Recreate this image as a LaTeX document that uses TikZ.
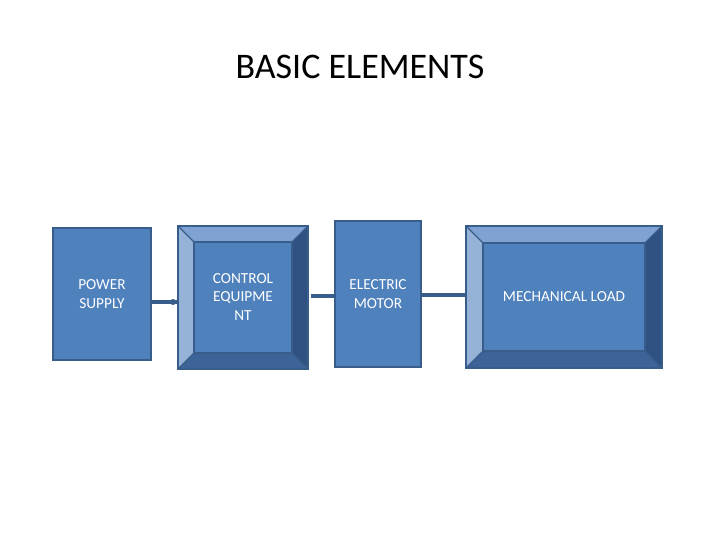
\documentclass[tikz,border=0pt]{standalone}
\usepackage{fontspec}
\setmainfont{Carlito}
\usetikzlibrary{calc}
\definecolor{bfill}{HTML}{4F81BD}
\definecolor{bdraw}{HTML}{385D8A}
\definecolor{btop}{HTML}{7FA2D3}
\definecolor{bleft}{HTML}{95B3D7}
\definecolor{bright}{HTML}{2F5282}
\definecolor{bbot}{HTML}{3C6499}
\tikzset{
 box/.style={draw=bdraw,line width=1.5pt,fill=bfill,text=white,font=\fontsize{11.5}{14}\selectfont,align=center,inner sep=0pt},
 conn/.style={draw=bdraw,line width=3pt},
 bev/.style={draw=bdraw,line width=1pt}
}
\newcommand\bevelof[2]{%
 \fill[btop] (#1.north west) -- (#1.north east) -- ($(#1.north east)+(-#2,#2)$) -- ($(#1.north west)+(#2,#2)$) -- cycle;
 \fill[bleft] (#1.north west) -- (#1.south west) -- ($(#1.south west)+(#2,-#2)$) -- ($(#1.north west)+(#2,#2)$) -- cycle;
 \fill[bright] (#1.north east) -- (#1.south east) -- ($(#1.south east)+(-#2,-#2)$) -- ($(#1.north east)+(-#2,#2)$) -- cycle;
 \fill[bbot] (#1.south west) -- (#1.south east) -- ($(#1.south east)+(-#2,-#2)$) -- ($(#1.south west)+(#2,-#2)$) -- cycle;
 \draw[bev] ($(#1.north west)+(#2,#2)$) rectangle ($(#1.south east)+(-#2,-#2)$);
 \draw[bev] (#1.north west) -- ++(#2,#2) (#1.north east) -- ++(-#2,#2) (#1.south west) -- ++(#2,-#2) (#1.south east) -- ++(-#2,-#2);
 \draw[bdraw,line width=1.5pt] (#1.north west) rectangle (#1.south east);}
\begin{document}
\begin{tikzpicture}[x=0.75pt,y=-0.75pt]
\useasboundingbox (0,0) rectangle (720,540);
\node[font=\fontsize{27}{32}\selectfont] (t) at (360,67) {BASIC ELEMENTS};
\node[box,minimum width=98*0.75pt,minimum height=132*0.75pt] (ps) at (102,294) {POWER\\SUPPLY};
\node[box,minimum width=128*0.75pt,minimum height=141*0.75pt] (ce) at (243,297.5) {};
\bevelof{ce}{16}
\node[text=white,font=\fontsize{11.5}{14}\selectfont,align=center] (cet) at (243,297) {CONTROL\\EQUIPME\\NT};
\node[box,minimum width=86*0.75pt,minimum height=146*0.75pt] (em) at (378,294) {ELECTRIC\\MOTOR};
\node[box,minimum width=194*0.75pt,minimum height=140*0.75pt] (ml) at (564,297) {};
\bevelof{ml}{17}
\node[text=white,font=\fontsize{11.5}{14}\selectfont] (mlt) at (564,297) {MECHANICAL LOAD};
\draw[conn] (ps.east |- 0,302) -- (ce.west |- 0,302);
\fill[bdraw] (173,302) circle (3);
\coordinate (c2) at (311,296);
\draw[conn] (c2) -- (em.west |- c2);
\draw[conn] (em.east |- 0,295) -- (ml.west |- 0,295);
\end{tikzpicture}
\end{document}
